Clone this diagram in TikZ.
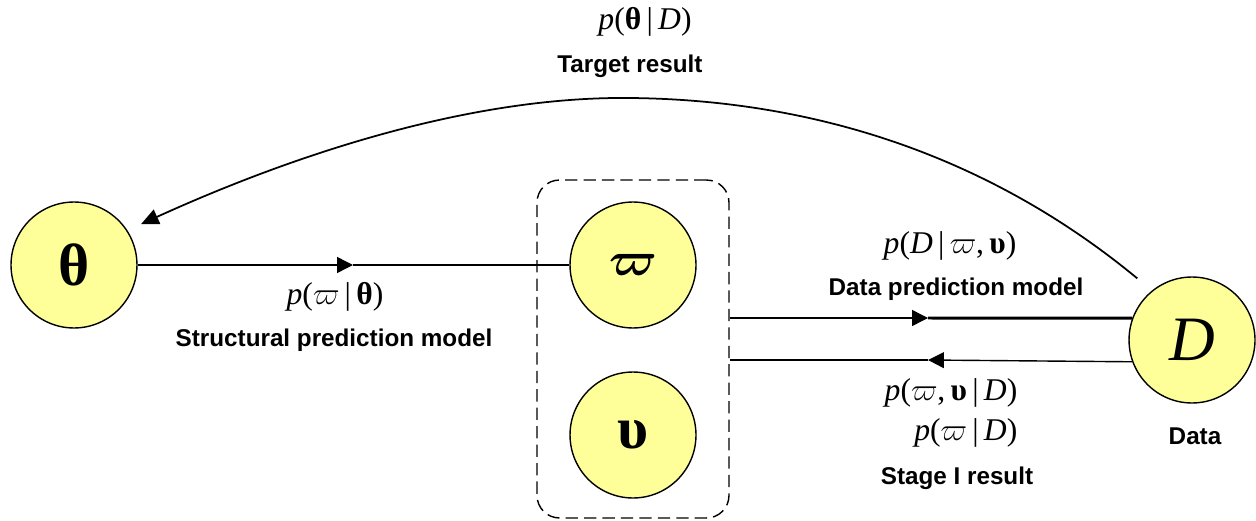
\RequirePackage{fix-cm}
\documentclass[tikz,border=0pt]{standalone}
\usepackage{fontspec}
\usepackage{bm}
\usetikzlibrary{arrows.meta}
\newfontfamily\labelfont{Liberation Sans}
\newfontfamily\timesfont{Liberation Serif}
\definecolor{nodefill}{RGB}{255,255,153}

\begin{document}
\begin{tikzpicture}[x=0.02cm,y=-0.02cm,line width=0.8pt,
  var/.style={circle,draw,fill=nodefill,minimum size=2.52cm,inner sep=0pt,font=\timesfont\fontsize{34}{40}\selectfont},
  formula/.style={inner sep=0pt,font=\timesfont\fontsize{18}{21}\selectfont},
  modeltext/.style={inner sep=0pt,font=\labelfont\bfseries\fontsize{13.8}{16}\selectfont},
  firsthalf/.style={line width=0.8pt,-{Triangle[length=9pt,width=9pt]}},
  secondhalf/.style={line width=1.7pt}]
\useasboundingbox (0,0) rectangle (1256,520);
% 变量结点
\node[var] (th) at (74,265) {\textbf{θ}};
\node[var,font=\fontsize{27}{32}\selectfont] (w) at (633,265) {$\bm{\varpi}$};
\node[var] (u) at (633,435) {\textbf{υ}};
\node[var,font=\timesfont\fontsize{36}{42}\selectfont] (D) at (1192,340) {\textit{D}};
% 虚线框（中间层参数）
\node[draw,dash pattern=on 7pt off 3.5pt,rounded corners=0.45cm,
  minimum width=3.84cm,minimum height=6.76cm] (grp) at (633,349) {};
% theta -> varpi，中点箭头，后半段加粗
\coordinate (m1) at (353,265);
\draw[firsthalf] (th) -- (m1);
\draw[secondhalf] (m1) -- (w);
\node[formula] (l1) at (335,297) {\textit{p}($\varpi$\,|\,\textbf{θ})};
\node[modeltext] (t1) at (334,340) {Structural prediction model};
% 框 -> D
\coordinate (m2) at (928,318);
\draw[firsthalf] (grp.east |- m2) -- (m2);
\draw[secondhalf] (m2) -- (D.160);
\node[formula] (l2) at (950,246) {\textit{p}(\textit{D}\,|\,$\varpi$,\,\textbf{υ})};
\node[modeltext] (t2) at (956,289) {Data prediction model};
% D -> 框
\coordinate (m3) at (928,360);
\draw[firsthalf] (D.200) -- (m3);
\draw[secondhalf] (m3) -- (grp.east |- m3);
\node[formula,anchor=east] (l3) at (1018,393) {\textit{p}($\varpi$,\,\textbf{υ}\,|\,\textit{D})};
\node[formula,anchor=east] (l4) at (1018,433) {\textit{p}($\varpi$\,|\,\textit{D})};
\node[modeltext] (t3) at (957,478) {Stage I result};
\node[modeltext] (t4) at (1195,436) {Data};
% D -> theta 的大弧
\coordinate (peak) at (630,98);
\draw[line width=1pt,-{Triangle[length=10pt,width=9pt]},shorten <=0.38cm,shorten >=0.3cm]
  (D.129) .. controls (1000,165) and (830,100) .. (peak)
  .. controls (450,96) and (260,170) .. (th.33);
\node[formula] (l5) at (645,22) {\textit{p}(\textbf{θ}\,|\,\textit{D})};
\node[modeltext] (t5) at (630,66) {Target result};
\end{tikzpicture}
\end{document}
